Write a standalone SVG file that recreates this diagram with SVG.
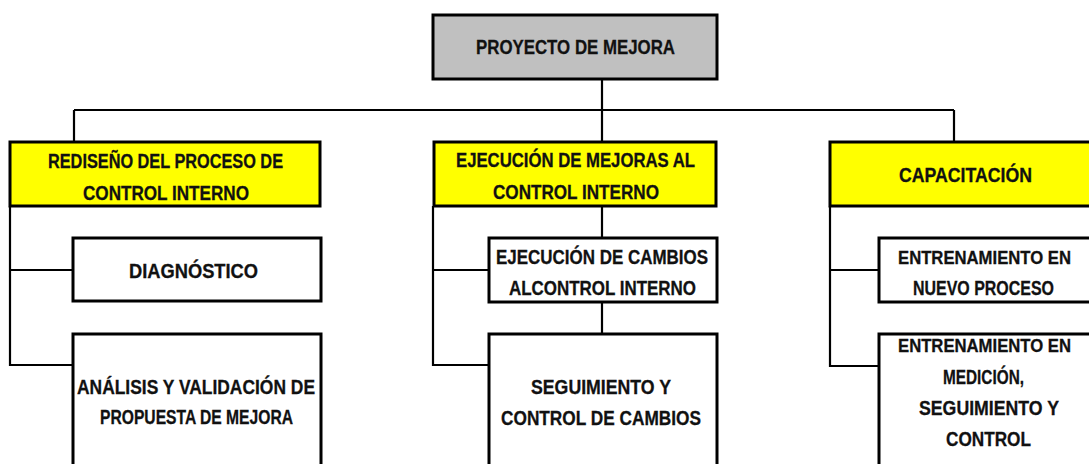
<svg xmlns="http://www.w3.org/2000/svg" width="1089" height="464" viewBox="0 0 1089 464">
<style>
.box{stroke:#000;stroke-width:3;fill:#fff}
.top{fill:#c0c0c0}
.yel{fill:#ffff00}
.t{font-family:"Liberation Sans",Arial,sans-serif;font-weight:bold;font-size:20px;fill:#111;stroke:#111;stroke-width:0.3;text-anchor:middle}
.s{font-size:18px}
.c{stroke:#000;stroke-width:2.2;fill:none}
</style>
<rect width="1089" height="464" fill="#fff"/>
<g id="connectors">
<path class="c" d="M602 79V142M74 110H954M74 110V142M954 110V142"/>
<path class="c" d="M10 206V365H73M10 270H73"/>
<path class="c" d="M433 206V365H489M433 270H489M602 206V238M602 302V334"/>
<path class="c" d="M830 206V366H879M830 270H879"/>
</g>
<g id="root">
<rect class="box top" x="433" y="15" width="284" height="64"/>
<text class="t" x="575.5" y="54" textLength="199" lengthAdjust="spacingAndGlyphs">PROYECTO DE MEJORA</text>
</g>
<g id="rediseno">
<rect class="box yel" x="10" y="142" width="310" height="64"/>
<text class="t" x="165.5" y="168" textLength="235" lengthAdjust="spacingAndGlyphs">REDISEÑO DEL PROCESO DE</text>
<text class="t" x="166" y="200" textLength="166" lengthAdjust="spacingAndGlyphs">CONTROL INTERNO</text>
</g>
<g id="ejecucion">
<rect class="box yel" x="434" y="142" width="282" height="64"/>
<text class="t" x="575.5" y="167" textLength="239" lengthAdjust="spacingAndGlyphs">EJECUCIÓN DE MEJORAS AL</text>
<text class="t" x="576" y="199" textLength="166" lengthAdjust="spacingAndGlyphs">CONTROL INTERNO</text>
</g>
<g id="capacitacion">
<rect class="box yel" x="830" y="142" width="270" height="64"/>
<text class="t" x="965.5" y="182" textLength="133" lengthAdjust="spacingAndGlyphs">CAPACITACIÓN</text>
</g>
<g id="diagnostico">
<rect class="box" x="73" y="238" width="248" height="63"/>
<text class="t" x="193.5" y="278" textLength="129" lengthAdjust="spacingAndGlyphs">DIAGNÓSTICO</text>
</g>
<g id="analisis">
<rect class="box" x="73" y="334" width="248" height="140"/>
<text class="t" x="196" y="394" textLength="238" lengthAdjust="spacingAndGlyphs">ANÁLISIS Y VALIDACIÓN DE</text>
<text class="t" x="196.5" y="424" textLength="193" lengthAdjust="spacingAndGlyphs">PROPUESTA DE MEJORA</text>
</g>
<g id="ejecucion-cambios">
<rect class="box" x="489" y="238" width="228" height="64"/>
<text class="t" x="602" y="264" textLength="212" lengthAdjust="spacingAndGlyphs">EJECUCIÓN DE CAMBIOS</text>
<text class="t" x="602.5" y="295" textLength="187" lengthAdjust="spacingAndGlyphs">ALCONTROL INTERNO</text>
</g>
<g id="seguimiento">
<rect class="box" x="489" y="334" width="228" height="140"/>
<text class="t" x="601" y="394" textLength="140" lengthAdjust="spacingAndGlyphs">SEGUIMIENTO Y</text>
<text class="t" x="601" y="425" textLength="200" lengthAdjust="spacingAndGlyphs">CONTROL DE CAMBIOS</text>
</g>
<g id="entrenamiento-proceso">
<rect class="box" x="879" y="238" width="212" height="64"/>
<text class="t s" x="984.5" y="264" textLength="173" lengthAdjust="spacingAndGlyphs">ENTRENAMIENTO EN</text>
<text class="t" x="983.5" y="295" textLength="141" lengthAdjust="spacingAndGlyphs">NUEVO PROCESO</text>
</g>
<g id="entrenamiento-medicion">
<rect class="box" x="879" y="334" width="212" height="140"/>
<text class="t s" x="984.5" y="352" textLength="173" lengthAdjust="spacingAndGlyphs">ENTRENAMIENTO EN</text>
<text class="t" x="983.5" y="384" textLength="81" lengthAdjust="spacingAndGlyphs">MEDICIÓN,</text>
<text class="t" x="989" y="415" textLength="140" lengthAdjust="spacingAndGlyphs">SEGUIMIENTO Y</text>
<text class="t" x="988.5" y="446" textLength="85" lengthAdjust="spacingAndGlyphs">CONTROL</text>
</g>
</svg>
